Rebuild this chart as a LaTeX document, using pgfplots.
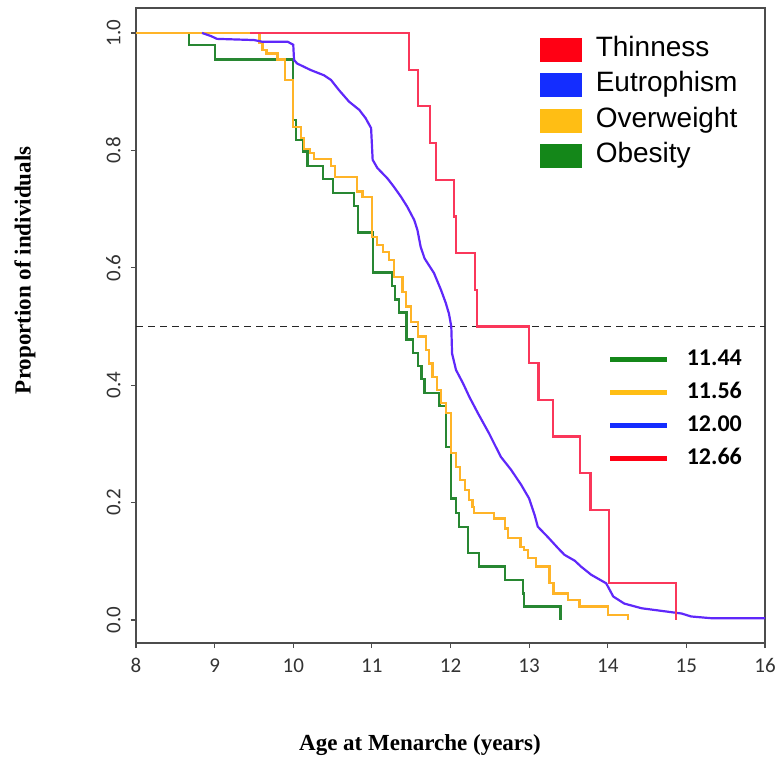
\documentclass[border=0pt]{standalone}
\usepackage{fontspec}
\setmainfont{Liberation Serif}
\newfontfamily\tickfont{Carlito}
\newfontfamily\legfont{Liberation Sans}
\usepackage{pgfplots}
\pgfplotsset{compat=1.18}

\definecolor{lnred}{RGB}{250,55,90}
\definecolor{lnblue}{RGB}{95,40,250}
\definecolor{lnorange}{RGB}{255,180,40}
\definecolor{lngreen}{RGB}{40,135,50}
\definecolor{swred}{RGB}{255,0,20}
\definecolor{swblue}{RGB}{20,45,255}
\definecolor{sworange}{RGB}{255,190,20}
\definecolor{swgreen}{RGB}{20,135,25}

\begin{document}
\begin{tikzpicture}
\path[use as bounding box] (-136pt,-120pt) rectangle (639pt,643pt);
\begin{axis}[
  at={(0,0)}, anchor=south west,
  scale only axis, width=629pt, height=635pt,
  xmin=8, xmax=16, ymin=-0.0392, ymax=1.0426,
  xtick={8,9,10,11,12,13,14,15,16},
  ytick={0,0.2,0.4,0.6,0.8,1.0},
  tick pos=left, tick align=outside,
  major tick length=5pt,
  every tick/.style={black!70, line width=1.2pt},
  axis line style={black!70, line width=2pt},
  /pgf/number format/assume math mode=true,
  ticklabel style={font=\fontsize{21}{21}\selectfont\tickfont, text=black!80},
  yticklabel style={rotate=90, anchor=south, /pgf/number format/.cd, fixed, fixed zerofill, precision=1},
  yticklabel shift=7pt,
  xticklabel style={yshift=-7pt},
  xlabel={Age at Menarche (years)},
  ylabel={Proportion of individuals},
  every axis x label/.style={at={(axis description cs:0.4515,-0.1606)}, anchor=center,
    font=\fontsize{23}{23}\selectfont\bfseries},
  every axis y label/.style={at={(axis description cs:-0.1765,0.587)}, rotate=90, anchor=center,
    font=\fontsize{23}{23}\selectfont\bfseries},
  legend cell align=left,
  legend image code/.code={\path[#1] (0pt,-12pt) rectangle (42pt,12pt);},
  legend style={draw=none, fill=none, at={(0.642,0.954)}, anchor=north west,
    inner sep=0pt, outer sep=0pt, row sep=10.5pt, column sep=14pt,
    font=\fontsize{28}{28}\selectfont\legfont,
    nodes={inner sep=0pt, text height=19pt, text depth=6pt}},
]
\addlegendimage{fill=swred, draw=none}
\addlegendentry{Thinness}
\addlegendimage{fill=swblue, draw=none}
\addlegendentry{Eutrophism}
\addlegendimage{fill=sworange, draw=none}
\addlegendentry{Overweight}
\addlegendimage{fill=swgreen, draw=none}
\addlegendentry{Obesity}

% median line
\addplot[forget plot, black!85, line width=1.5pt, dash pattern=on 7pt off 5pt]
  coordinates {(8,0.5) (16,0.5)};

% Obesity
\addplot[forget plot, const plot, lngreen, line width=2.2pt] coordinates {
 (8,1) (8.67,0.979) (9.0,0.955) (10.0,0.852) (10.03,0.818) (10.12,0.798)
 (10.18,0.773) (10.38,0.751) (10.51,0.728) (10.77,0.705) (10.82,0.660)
 (11.01,0.592) (11.26,0.569) (11.29,0.546) (11.35,0.524) (11.44,0.478)
 (11.52,0.455) (11.59,0.433) (11.63,0.410) (11.67,0.387) (11.86,0.365)
 (11.94,0.295) (12.01,0.207) (12.07,0.182) (12.11,0.159) (12.22,0.114)
 (12.36,0.091) (12.69,0.068) (12.92,0.045) (12.93,0.023) (13.40,0)
};

% Overweight
\addplot[forget plot, const plot, lnorange, line width=2.2pt] coordinates {
 (8,1) (9.57,0.983) (9.61,0.971) (9.66,0.965) (9.80,0.955) (9.90,0.920)
 (10.0,0.840) (10.10,0.821) (10.14,0.802) (10.21,0.795) (10.26,0.785)
 (10.48,0.773) (10.53,0.755) (10.81,0.730) (10.88,0.721) (11.0,0.653)
 (11.07,0.639) (11.14,0.627) (11.22,0.613) (11.28,0.585) (11.39,0.559)
 (11.43,0.534) (11.50,0.508) (11.59,0.483) (11.69,0.460) (11.73,0.437)
 (11.77,0.414) (11.83,0.392) (11.88,0.369) (11.94,0.352) (12.01,0.284)
 (12.07,0.261) (12.12,0.239) (12.18,0.221) (12.24,0.204) (12.28,0.193)
 (12.30,0.182) (12.55,0.173) (12.69,0.156) (12.73,0.140) (12.89,0.125)
 (12.93,0.119) (12.99,0.106) (13.09,0.091) (13.26,0.0625) (13.31,0.045)
 (13.49,0.034) (13.64,0.023) (14.0,0.0085) (14.26,0)
};

% Eutrophism
\addplot[forget plot, lnblue, line width=2.2pt] coordinates {
 (8.84,1.0) (8.95,0.995) (9.03,0.990) (9.50,0.988) (9.61,0.985) (9.93,0.985)
 (10.0,0.980) (10.01,0.954) (10.05,0.948) (10.22,0.937) (10.39,0.928)
 (10.48,0.920) (10.58,0.903) (10.71,0.883) (10.84,0.869) (10.92,0.855)
 (10.99,0.838) (11.01,0.784) (11.07,0.770) (11.20,0.752) (11.28,0.738)
 (11.37,0.721) (11.45,0.704) (11.54,0.681) (11.58,0.664) (11.62,0.636)
 (11.67,0.616) (11.79,0.591) (11.88,0.562) (11.94,0.540) (11.98,0.522)
 (12.01,0.500) (12.02,0.454) (12.07,0.426) (12.16,0.403) (12.24,0.380)
 (12.35,0.352) (12.49,0.318) (12.64,0.278) (12.77,0.256) (12.90,0.230)
 (13.0,0.207) (13.07,0.179) (13.11,0.159) (13.24,0.141) (13.37,0.122)
 (13.45,0.111) (13.58,0.101) (13.66,0.091) (13.79,0.077) (13.98,0.0625)
 (14.07,0.040) (14.21,0.028) (14.43,0.020) (14.60,0.017) (14.77,0.014)
 (14.94,0.011) (15.06,0.006) (15.32,0.003) (16.0,0.003)
};

% Thinness
\addplot[forget plot, const plot, lnred, line width=2.2pt] coordinates {
 (9.45,1) (11.475,0.9375) (11.59,0.875) (11.74,0.8125) (11.82,0.75)
 (12.04,0.6875) (12.07,0.625) (12.31,0.5625) (12.34,0.5) (13.0,0.4375)
 (13.12,0.375) (13.30,0.3125) (13.65,0.25) (13.78,0.1875) (14.02,0.0625)
 (14.87,0)
};
\end{axis}

% median legend
\begin{axis}[
  at={(0,0)}, anchor=south west,
  scale only axis, width=629pt, height=635pt,
  xmin=8, xmax=16, ymin=-0.0392, ymax=1.0426,
  hide axis,
  legend cell align=left,
  legend image code/.code={\draw[#1] (0pt,0pt) -- (57pt,0pt);},
  legend style={draw=none, fill=none, at={(0.750,0.4655)}, anchor=north west,
    inner sep=0pt, outer sep=0pt, row sep=8pt, column sep=17pt,
    font=\fontsize{24}{24}\selectfont\tickfont\bfseries,
    nodes={inner sep=0pt, text height=18pt, text depth=7pt}},
]
\addlegendimage{swgreen, line width=5pt}
\addlegendentry{11.44}
\addlegendimage{sworange, line width=5pt}
\addlegendentry{11.56}
\addlegendimage{swblue, line width=5pt}
\addlegendentry{12.00}
\addlegendimage{swred, line width=5pt}
\addlegendentry{12.66}
\end{axis}
\end{tikzpicture}
\end{document}
